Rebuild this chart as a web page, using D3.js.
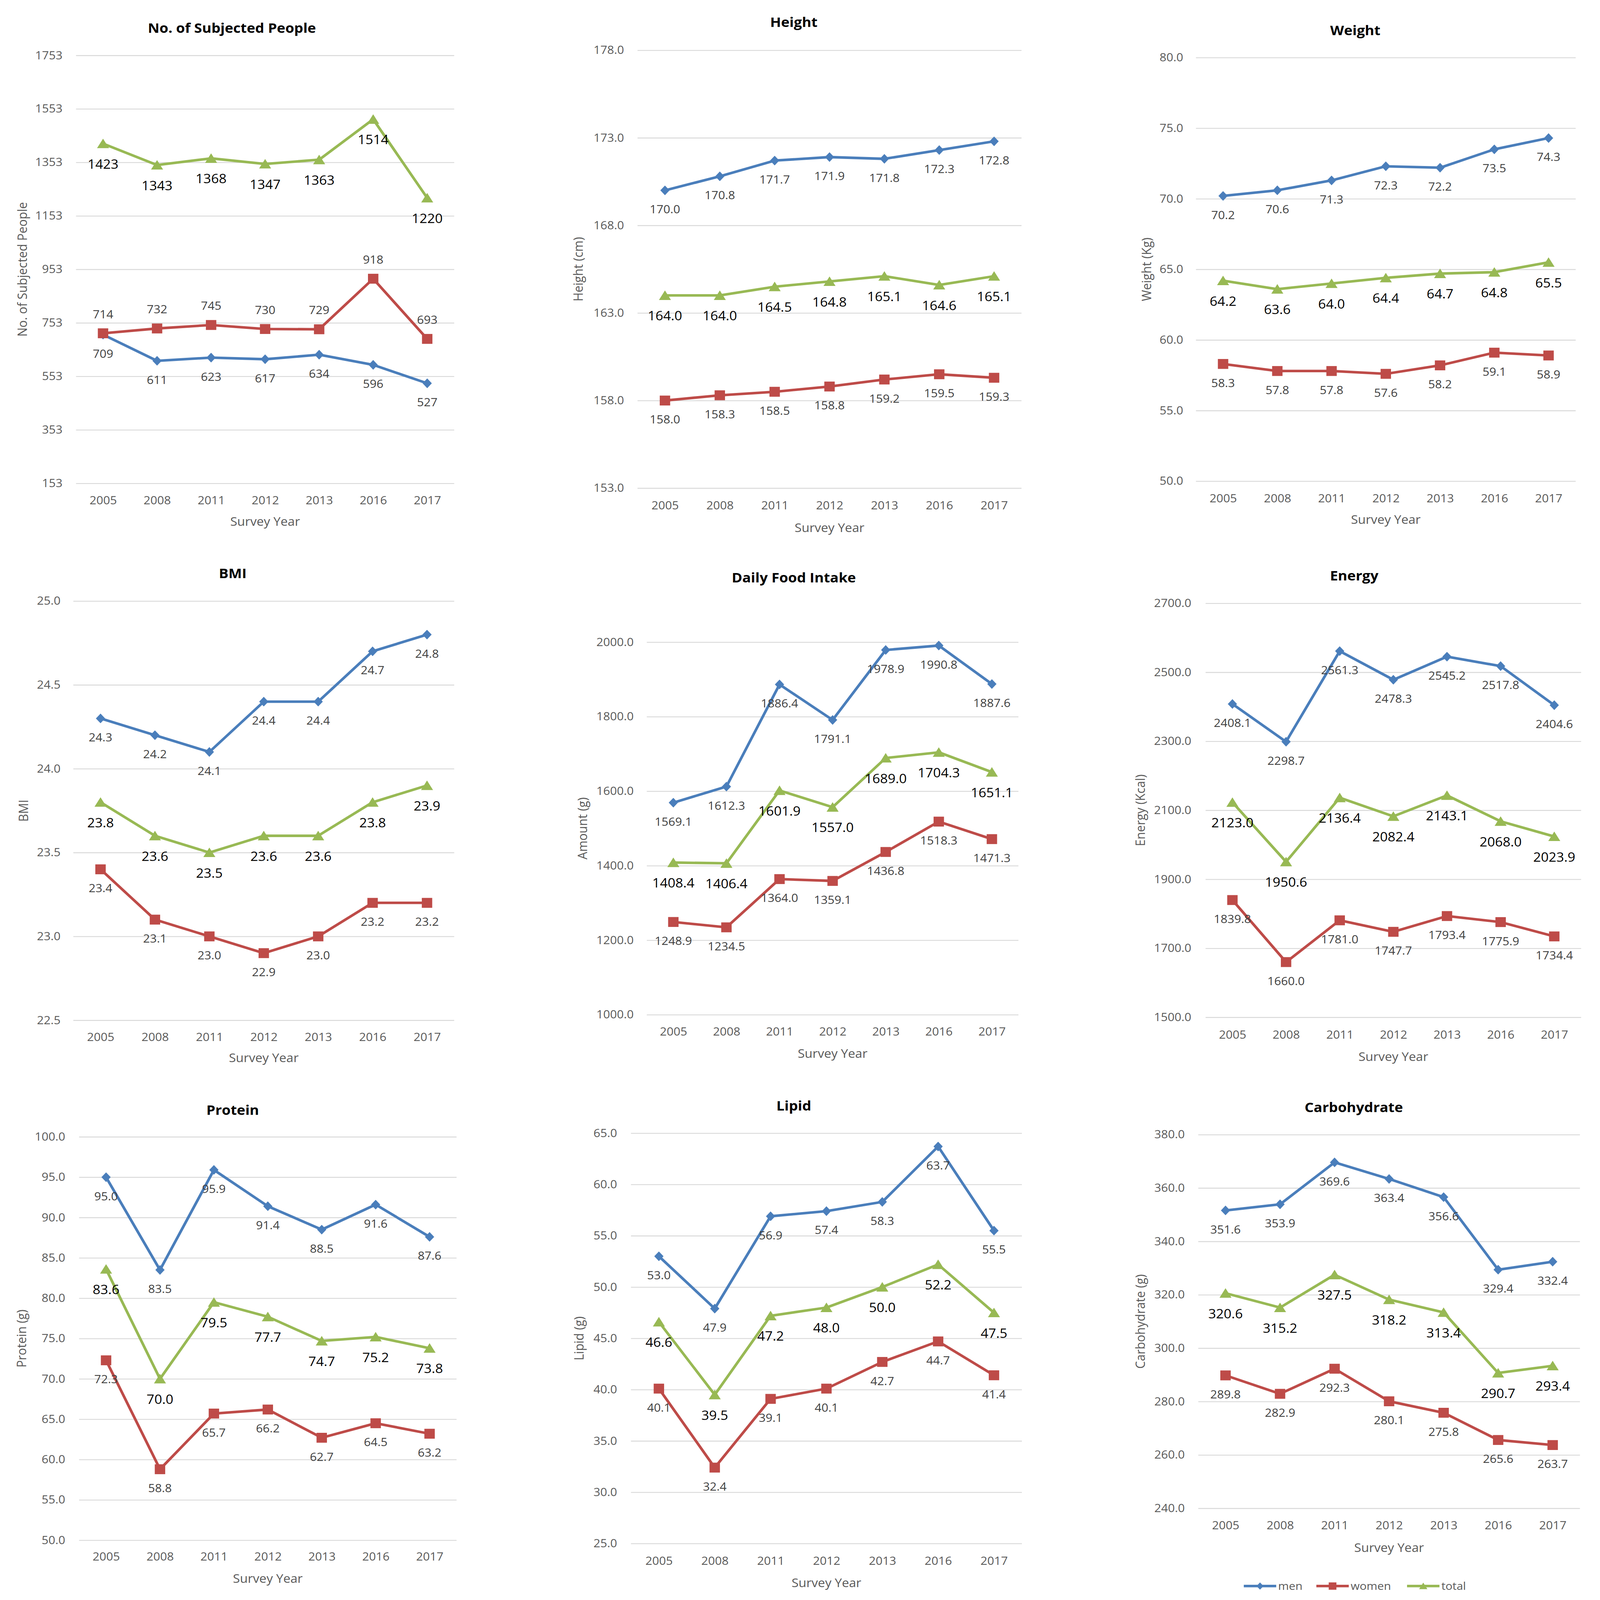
<!DOCTYPE html>
<html>
<head>
<meta charset="utf-8">
<script src="https://cdn.jsdelivr.net/npm/d3@7"></script>
<style>
  html, body { margin: 0; padding: 0; background: #fff; overflow: hidden; }
  svg { display: block; }
</style>
</head>
<body>
<div id="chart"></div>
<script>
const years = ['2005', '2008', '2011', '2012', '2013', '2016', '2017'];

const peopleMen = [709, 611, 623, 617, 634, 596, 527];
const peopleWomen = [714, 732, 745, 730, 729, 918, 693];
const peopleTotal = [1423, 1343, 1368, 1347, 1363, 1514, 1220];

const heightMen = [170.0, 170.8, 171.7, 171.9, 171.8, 172.3, 172.8];
const heightWomen = [158.0, 158.3, 158.5, 158.8, 159.2, 159.5, 159.3];
const heightTotal = [164.0, 164.0, 164.5, 164.8, 165.1, 164.6, 165.1];

const weightMen = [70.2, 70.6, 71.3, 72.3, 72.2, 73.5, 74.3];
const weightWomen = [58.3, 57.8, 57.8, 57.6, 58.2, 59.1, 58.9];
const weightTotal = [64.2, 63.6, 64.0, 64.4, 64.7, 64.8, 65.5];

const bmiMen = [24.3, 24.2, 24.1, 24.4, 24.4, 24.7, 24.8];
const bmiWomen = [23.4, 23.1, 23.0, 22.9, 23.0, 23.2, 23.2];
const bmiTotal = [23.8, 23.6, 23.5, 23.6, 23.6, 23.8, 23.9];

const foodMen = [1569.1, 1612.3, 1886.4, 1791.1, 1978.9, 1990.8, 1887.6];
const foodWomen = [1248.9, 1234.5, 1364.0, 1359.1, 1436.8, 1518.3, 1471.3];
const foodTotal = [1408.4, 1406.4, 1601.9, 1557.0, 1689.0, 1704.3, 1651.1];

const energyMen = [2408.1, 2298.7, 2561.3, 2478.3, 2545.2, 2517.8, 2404.6];
const energyWomen = [1839.8, 1660.0, 1781.0, 1747.7, 1793.4, 1775.9, 1734.4];
const energyTotal = [2123.0, 1950.6, 2136.4, 2082.4, 2143.1, 2068.0, 2023.9];

const proteinMen = [95.0, 83.5, 95.9, 91.4, 88.5, 91.6, 87.6];
const proteinWomen = [72.3, 58.8, 65.7, 66.2, 62.7, 64.5, 63.2];
const proteinTotal = [83.6, 70.0, 79.5, 77.7, 74.7, 75.2, 73.8];

const lipidMen = [53.0, 47.9, 56.9, 57.4, 58.3, 63.7, 55.5];
const lipidWomen = [40.1, 32.4, 39.1, 40.1, 42.7, 44.7, 41.4];
const lipidTotal = [46.6, 39.5, 47.2, 48.0, 50.0, 52.2, 47.5];

const carbMen = [351.6, 353.9, 369.6, 363.4, 356.6, 329.4, 332.4];
const carbWomen = [289.8, 282.9, 292.3, 280.1, 275.8, 265.6, 263.7];
const carbTotal = [320.6, 315.2, 327.5, 318.2, 313.4, 290.7, 293.4];

const seriesNames = ['men', 'women', 'total'];
const COLORS = { men: '#4a7ebb', women: '#be4b48', total: '#98b954' };

// one entry per small chart: texts, y range, and where it sits on the page
const panels = [
  { title: 'No. of Subjected People', yTitle: 'No. of Subjected People', min: 153, max: 1753, step: 200, dec: 0,
    data: [peopleMen, peopleWomen, peopleTotal], womenAbove: true,
    x0: 197, x1: 1177, yTop: 151, yBot: 1318, titleX: 601, titleY: 76, tickRight: 162, xLabY: 1364, svyY: 1422, yTitleX: 58 },
  { title: 'Height', yTitle: 'Height (cm)', min: 153, max: 178, step: 5, dec: 1,
    data: [heightMen, heightWomen, heightTotal],
    x0: 1652, x1: 2647, yTop: 137, yBot: 1331, titleX: 2057, titleY: 61, tickRight: 1617, xLabY: 1378, svyY: 1439, yTitleX: 1499 },
  { title: 'Weight', yTitle: 'Weight (Kg)', min: 50, max: 80, step: 5, dec: 1,
    data: [weightMen, weightWomen, weightTotal],
    x0: 3099, x1: 4083, yTop: 157, yBot: 1312, titleX: 3512, titleY: 83, tickRight: 3066, xLabY: 1359, svyY: 1417, yTitleX: 2971 },
  { title: 'BMI', yTitle: 'BMI', min: 22.5, max: 25, step: 0.5, dec: 1,
    data: [bmiMen, bmiWomen, bmiTotal],
    x0: 190, x1: 1177, yTop: 1639, yBot: 2782, titleX: 603, titleY: 1563, tickRight: 157, xLabY: 2828, svyY: 2885, yTitleX: 61 },
  { title: 'Daily Food Intake', yTitle: 'Amount (g)', min: 1000, max: 2000, step: 200, dec: 1,
    data: [foodMen, foodWomen, foodTotal],
    x0: 1676, x1: 2639, yTop: 1751, yBot: 2767, titleX: 2057, titleY: 1575, tickRight: 1642, xLabY: 2813, svyY: 2873, yTitleX: 1510 },
  { title: 'Energy', yTitle: 'Energy (Kcal)', min: 1500, max: 2700, step: 200, dec: 1,
    data: [energyMen, energyWomen, energyTotal],
    x0: 3124, x1: 4097, yTop: 1645, yBot: 2774, titleX: 3509, titleY: 1570, tickRight: 3087, xLabY: 2822, svyY: 2881, yTitleX: 2955 },
  { title: 'Protein', yTitle: 'Protein (g)', min: 50, max: 100, step: 5, dec: 1,
    data: [proteinMen, proteinWomen, proteinTotal],
    x0: 205, x1: 1183, yTop: 3100, yBot: 4200, titleX: 603, titleY: 3027, tickRight: 169, xLabY: 4245, svyY: 4305, yTitleX: 56 },
  { title: 'Lipid', yTitle: 'Lipid (g)', min: 25, max: 65, step: 5, dec: 1,
    data: [lipidMen, lipidWomen, lipidTotal],
    x0: 1635, x1: 2648, yTop: 3090, yBot: 4209, titleX: 2057, titleY: 3015, tickRight: 1599, xLabY: 4256, svyY: 4316, yTitleX: 1501 },
  { title: 'Carbohydrate', yTitle: 'Carbohydrate (g)', min: 240, max: 380, step: 20, dec: 1,
    data: [carbMen, carbWomen, carbTotal],
    x0: 3105, x1: 4094, yTop: 3094, yBot: 4113, titleX: 3508, titleY: 3020, tickRight: 3070, xLabY: 4159, svyY: 4220, yTitleX: 2955 },
];

const W = 4146, H = 4363;
const FONT = "'Open Sans', 'DejaVu Sans', sans-serif";

// the window may be smaller than the page, so draw in page units and fit it
const vw = window.innerWidth || W;
const vh = window.innerHeight || H;

const svg = d3.select('#chart').append('svg')
  .attr('viewBox', `0 0 ${W} ${H}`)
  .attr('preserveAspectRatio', 'none')
  .attr('width', vw)
  .attr('height', vh)
  .style('font-family', FONT);

function markerPath(name, r) {
  if (name === 'men') return `M0,${-r * 1.1}L${r},0L0,${r * 1.1}L${-r},0Z`;
  if (name === 'women') return `M${-r},${-r}H${r}V${r}H${-r}Z`;
  return `M0,${-r * 1.05}L${r * 1.2},${r * 0.95}L${-r * 1.2},${r * 0.95}Z`;
}
const markerR = { men: 12, women: 13.5, total: 13 };

panels.forEach(p => {
  const g = svg.append('g');

  const x = d3.scalePoint().domain(years).range([p.x0, p.x1]).padding(0.5);
  const y = d3.scaleLinear().domain([p.min, p.max]).range([p.yBot, p.yTop]);
  const ticks = d3.range(0, Math.round((p.max - p.min) / p.step) + 1).map(i => p.min + i * p.step);

  // gridlines + y tick labels
  const yAxis = g.append('g')
    .attr('transform', `translate(${p.x0},0)`)
    .call(d3.axisLeft(y).tickValues(ticks).tickSize(-(p.x1 - p.x0)).tickPadding(p.x0 - p.tickRight)
      .tickFormat(d => d.toFixed(p.dec)));
  yAxis.select('.domain').remove();
  yAxis.selectAll('line').attr('stroke', '#d9d9d9').attr('stroke-width', 2.5);
  yAxis.selectAll('text').attr('fill', '#595959').style('font-size', '31px').style('font-family', FONT);

  // year labels
  const xAxis = g.append('g')
    .attr('transform', `translate(0,${p.yBot})`)
    .call(d3.axisBottom(x).tickSize(0));
  xAxis.select('.domain').remove();
  xAxis.selectAll('text')
    .attr('y', p.xLabY - p.yBot).attr('dy', '0.35em')
    .attr('fill', '#595959').style('font-size', '31px').style('font-family', FONT);

  g.append('text')
    .attr('x', p.titleX).attr('y', p.titleY).attr('dy', '0.35em')
    .attr('text-anchor', 'middle').attr('font-weight', 'bold')
    .attr('font-size', 37).attr('fill', '#000')
    .text(p.title);

  g.append('text')
    .attr('x', (p.x0 + p.x1) / 2).attr('y', p.svyY).attr('dy', '0.35em')
    .attr('text-anchor', 'middle').attr('font-size', 33).attr('fill', '#595959')
    .text('Survey Year');

  g.append('text')
    .attr('transform', `translate(${p.yTitleX},${(p.yTop + p.yBot) / 2}) rotate(-90)`)
    .attr('dy', '0.35em')
    .attr('text-anchor', 'middle').attr('font-size', 33).attr('fill', '#595959')
    .text(p.yTitle);

  const line = d3.line().x((d, i) => x(years[i])).y(d => y(d));

  seriesNames.forEach((name, si) => {
    const vals = p.data[si];
    const color = COLORS[name];
    g.append('path')
      .datum(vals)
      .attr('fill', 'none')
      .attr('stroke', color)
      .attr('stroke-width', 7)
      .attr('stroke-linejoin', 'round')
      .attr('d', line);

    g.selectAll(null).data(vals).enter().append('path')
      .attr('transform', (d, i) => `translate(${x(years[i])},${y(d)})`)
      .attr('d', markerPath(name, markerR[name]))
      .attr('fill', color);

    const isTotal = name === 'total';
    const above = name === 'women' && p.womenAbove;
    g.selectAll(null).data(vals).enter().append('text')
      .attr('x', (d, i) => x(years[i]))
      .attr('y', d => y(d) + (above ? -52 : (isTotal ? 56 : 52)))
      .attr('dy', '0.35em')
      .attr('text-anchor', 'middle')
      .attr('font-size', isTotal ? 35 : 31)
      .attr('fill', isTotal ? '#000' : '#404040')
      .text(d => d.toFixed(p.dec));
  });
});

// legend under the last chart
const legend = svg.append('g').attr('transform', 'translate(0,4325)');
const legendItems = [
  { name: 'men', x: 3223 },
  { name: 'women', x: 3411 },
  { name: 'total', x: 3646 },
];
legendItems.forEach(it => {
  legend.append('line')
    .attr('x1', it.x).attr('x2', it.x + 84)
    .attr('stroke', COLORS[it.name]).attr('stroke-width', 7);
  legend.append('path')
    .attr('transform', `translate(${it.x + 42},0)`)
    .attr('d', markerPath(it.name, it.name === 'women' ? 10 : 9))
    .attr('fill', COLORS[it.name]);
  legend.append('text')
    .attr('x', it.x + 89).attr('dy', '0.35em')
    .attr('font-size', 30).attr('fill', '#595959')
    .text(it.name);
});
</script>
</body>
</html>
